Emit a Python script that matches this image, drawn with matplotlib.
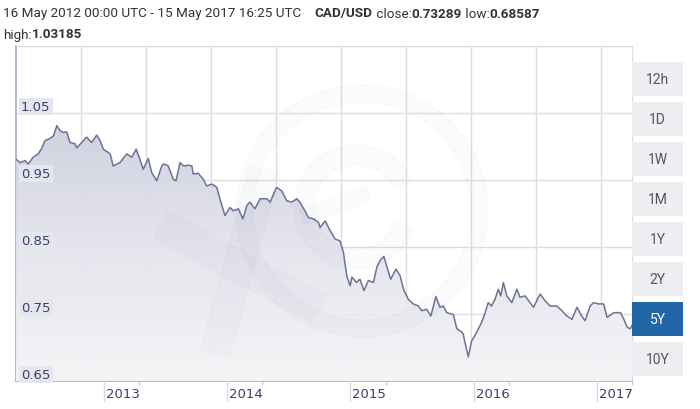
import numpy as np
import matplotlib
matplotlib.use("Agg")
import matplotlib.pyplot as plt
import matplotlib.dates as mdates
from matplotlib.colors import LinearSegmentedColormap
from matplotlib.patches import Rectangle, Wedge
import matplotlib.transforms as mtransforms

# CAD/USD, 16 May 2012 - 15 May 2017
dates = [
    "2012-05-16", "2012-05-28", "2012-06-12", "2012-06-21", "2012-07-06", "2012-07-21",
    "2012-07-31", "2012-08-10", "2012-08-25", "2012-09-04", "2012-09-14", "2012-09-23",
    "2012-10-03", "2012-10-13", "2012-10-23", "2012-11-07", "2012-11-12", "2012-11-27",
    "2012-12-11", "2012-12-26", "2013-01-10", "2013-01-20", "2013-01-30", "2013-02-19",
    "2013-02-28", "2013-03-20", "2013-04-09", "2013-04-24", "2013-05-07", "2013-05-18",
    "2013-05-28", "2013-06-12", "2013-06-22", "2013-07-07", "2013-07-22", "2013-07-27",
    "2013-08-10", "2013-08-25", "2013-09-02", "2013-09-14", "2013-09-24", "2013-10-09",
    "2013-10-19", "2013-10-23", "2013-11-07", "2013-11-22", "2013-12-02", "2013-12-17",
    "2014-01-01", "2014-01-10", "2014-01-25", "2014-02-09", "2014-02-19", "2014-03-06",
    "2014-03-19", "2014-03-31", "2014-04-09", "2014-04-24", "2014-05-09", "2014-05-29",
    "2014-06-08", "2014-06-27", "2014-07-12", "2014-07-27", "2014-08-11", "2014-08-26",
    "2014-09-04", "2014-09-19", "2014-09-29", "2014-10-14", "2014-10-29", "2014-11-03",
    "2014-11-18", "2014-12-02", "2014-12-17", "2015-01-01", "2015-01-11", "2015-01-21",
    "2015-01-31", "2015-02-05", "2015-02-19", "2015-03-01", "2015-03-13", "2015-03-26",
    "2015-04-10", "2015-04-20", "2015-04-30", "2015-05-11", "2015-05-19", "2015-05-31",
    "2015-06-16", "2015-06-28", "2015-07-08", "2015-07-22", "2015-08-06", "2015-08-21",
    "2015-08-31", "2015-09-15", "2015-09-27", "2015-10-12", "2015-10-24", "2015-11-03",
    "2015-11-13", "2015-12-03", "2015-12-13", "2015-12-28", "2016-01-01", "2016-01-06",
    "2016-01-16", "2016-01-26", "2016-02-05", "2016-02-15", "2016-02-25", "2016-03-06",
    "2016-03-15", "2016-03-25", "2016-04-04", "2016-04-14", "2016-04-21", "2016-04-29",
    "2016-05-09", "2016-05-24", "2016-06-08", "2016-06-17", "2016-07-02", "2016-07-17",
    "2016-07-27", "2016-08-16", "2016-08-30", "2016-09-14", "2016-10-04", "2016-10-19",
    "2016-11-03", "2016-11-18", "2016-12-03", "2016-12-17", "2016-12-27", "2017-01-11",
    "2017-01-21", "2017-02-05", "2017-02-20", "2017-03-02", "2017-03-22", "2017-04-11",
    "2017-04-21", "2017-05-01", "2017-05-10", "2017-05-15",
]
rates = [
    0.981, 0.976, 0.979, 0.974, 0.984, 0.989,
    0.997, 1.009, 1.012, 1.016, 1.031, 1.024,
    1.021, 1.022, 1.006, 1.004, 0.998, 1.006,
    1.014, 1.006, 1.017, 1.009, 0.996, 0.989,
    0.971, 0.976, 0.989, 0.984, 0.996, 0.981,
    0.966, 0.982, 0.961, 0.949, 0.971, 0.974,
    0.971, 0.951, 0.949, 0.976, 0.971, 0.972,
    0.971, 0.959, 0.960, 0.951, 0.941, 0.944,
    0.939, 0.922, 0.897, 0.909, 0.904, 0.907,
    0.892, 0.912, 0.917, 0.907, 0.922, 0.922,
    0.917, 0.939, 0.934, 0.919, 0.917, 0.922,
    0.917, 0.904, 0.894, 0.892, 0.887, 0.879,
    0.889, 0.875, 0.862, 0.859, 0.842, 0.807,
    0.792, 0.805, 0.797, 0.802, 0.785, 0.800,
    0.797, 0.820, 0.830, 0.836, 0.822, 0.802,
    0.817, 0.807, 0.787, 0.772, 0.765, 0.762,
    0.755, 0.757, 0.747, 0.776, 0.760, 0.762,
    0.752, 0.749, 0.728, 0.723, 0.720, 0.708,
    0.686, 0.710, 0.718, 0.728, 0.738, 0.752,
    0.767, 0.762, 0.772, 0.787, 0.777, 0.797,
    0.777, 0.767, 0.787, 0.775, 0.777, 0.767,
    0.760, 0.780, 0.770, 0.762, 0.762, 0.755,
    0.747, 0.742, 0.760, 0.747, 0.740, 0.762,
    0.767, 0.765, 0.765, 0.745, 0.752, 0.752,
    0.742, 0.730, 0.728, 0.733,
]

y_ticks = [0.65, 0.75, 0.85, 0.95, 1.05]
y_grid = [0.65, 0.75, 0.85, 0.95, 1.05, 1.15]
year_labels = ["2013", "2014", "2015", "2016", "2017"]
year_marks = ["2013-02-01", "2014-02-01", "2015-02-01", "2016-02-01", "2017-02-01"]
buttons = ["12h", "1D", "1W", "1M", "1Y", "2Y", "5Y", "10Y"]
active = "5Y"

W, H = 700, 410
fig = plt.figure(figsize=(7, 4.1), dpi=100)
fig.patch.set_facecolor("white")


def fx(x):
    return x / W


def fy(y):
    return 1 - y / H


L, R, T, B = 16, 632, 47, 382
ax = fig.add_axes([fx(L), fy(B), fx(R) - fx(L), fy(T) - fy(B)])
ax.set_facecolor("white")

x = mdates.date2num(np.array(dates, dtype="datetime64[D]"))
y = np.array(rates)
xmin, xmax = x[0], x[-1]
ax.set_xlim(xmin, xmax)
ax.set_ylim(0.65, 1.15)

# grid
for g in y_grid:
    ax.axhline(g, color="#dedee2", lw=1, zorder=1)
for k in range(1, 10):
    ax.axvline(xmin + k * (xmax - xmin) * 65 / 616, color="#dedee2", lw=1, zorder=1)

# gradient area fill
cmap = LinearSegmentedColormap.from_list("fill", ["#f4f4f7", "#e2e3ec", "#c9cbdb"])
grad = np.linspace(0, 1, 256).reshape(-1, 1)
im = ax.imshow(grad, extent=[xmin, xmax, 0.65, 1.06], origin="lower", aspect="auto",
               cmap=cmap, zorder=3, alpha=0.92)
poly = ax.fill_between(x, y, 0.65, color="none", lw=0)
im.set_clip_path(poly.get_paths()[0], transform=ax.transData)
ax.set_xlim(xmin, xmax)
ax.set_ylim(0.65, 1.15)

# watermark (xe logo, very faint), drawn in output pixels
px = mtransforms.IdentityTransform()
wm = "#50558a"
wa = 0.025
ax.add_artist(Wedge((362, H - 212), 126, 0, 360, width=17, transform=px,
                    color=wm, alpha=wa, zorder=4, clip_on=False))
ax.add_artist(Wedge((356, H - 208), 62, 25, 340, width=20, transform=px,
                    color=wm, alpha=wa, zorder=4, clip_on=False))
ax.add_artist(Rectangle((300, H - 214), 70, 16, transform=mtransforms.Affine2D()
                        .rotate_deg_around(335, H - 206, 20) + px,
                        color=wm, alpha=wa, zorder=4))
for (cx, cy, ang, ln) in [(240, 268, -28, 180), (240, 262, 75, 190)]:
    r = Rectangle((cx - ln / 2, H - cy - 15), ln, 30,
                  transform=mtransforms.Affine2D().rotate_deg_around(cx, H - cy, ang) + px,
                  color=wm, alpha=wa, zorder=4)
    ax.add_artist(r)

ax.plot(x, y, color="#6d7296", lw=1.1, zorder=5)

# y labels inside the plot
for t in y_ticks:
    ax.text(fx(L) + 5 / W, t, f"{t:.2f}", transform=mtransforms.blended_transform_factory(fig.transFigure, ax.transData),
            ha="left", va="bottom", fontsize=9.5, color="#3b3f6e", family="DejaVu Sans", zorder=6,
            bbox=dict(boxstyle="square,pad=0.18", fc="#e6e6ef", ec="none"))

ax.set_xticks([])
ax.set_yticks([])
for s in ["top", "right"]:
    ax.spines[s].set_color("#dedee2")
for s in ["left", "bottom"]:
    ax.spines[s].set_color("#a9accb")
    ax.spines[s].set_linewidth(1.2)

# x labels with separator lines and small yearly ticks
xl = mdates.date2num(np.array(year_marks, dtype="datetime64[D]"))
for xm, lab in zip(xl, year_labels):
    xp = L + (xm - xmin) / (xmax - xmin) * (R - L)
    fig.add_artist(plt.Line2D([fx(xp), fx(xp)], [fy(B), fy(B + 20)], color="#dadae2", lw=1))
    fig.text(fx(xp + 2), fy(395), lab, ha="left", va="center", fontsize=9.5,
             color="#3b3f6e", family="DejaVu Sans")
for k in range(1, 6):
    xp = L + k * 123.2
    fig.add_artist(plt.Line2D([fx(xp), fx(xp)], [fy(B), fy(B + 3)], color="#c8c8d4", lw=1))

# range buttons
for i, b in enumerate(buttons):
    top = 63 + 40 * i
    on = b == active
    fig.add_artist(Rectangle((fx(632), fy(top + 34)), 51 / W, 34 / H, transform=fig.transFigure,
                             facecolor="#2166a6" if on else "#efeff3", edgecolor="none"))
    fig.text(fx(657.5), fy(top + 17), b, ha="center", va="center", fontsize=10,
             color="white" if on else "#555555", family="Roboto")

# header
fig.canvas.draw()
renderer = fig.canvas.get_renderer()


def run(parts, x0, yc):
    xp = x0
    for txt, bold in parts:
        t = fig.text(fx(xp), fy(yc), txt, ha="left", va="center", fontsize=9.7,
                     color="#333333", family="Roboto", weight="bold" if bold else "normal")
        bb = t.get_window_extent(renderer)
        xp += bb.width


run([("16 May 2012 00:00 UTC - 15 May 2017 16:25 UTC    ", False), ("CAD/USD", True),
     (" close:", False), ("0.73289", True), (" low:", False), ("0.68587", True)], 3, 14)
run([("high:", False), ("1.03185", True)], 3, 35)

fig.savefig("out.png", dpi=100)
